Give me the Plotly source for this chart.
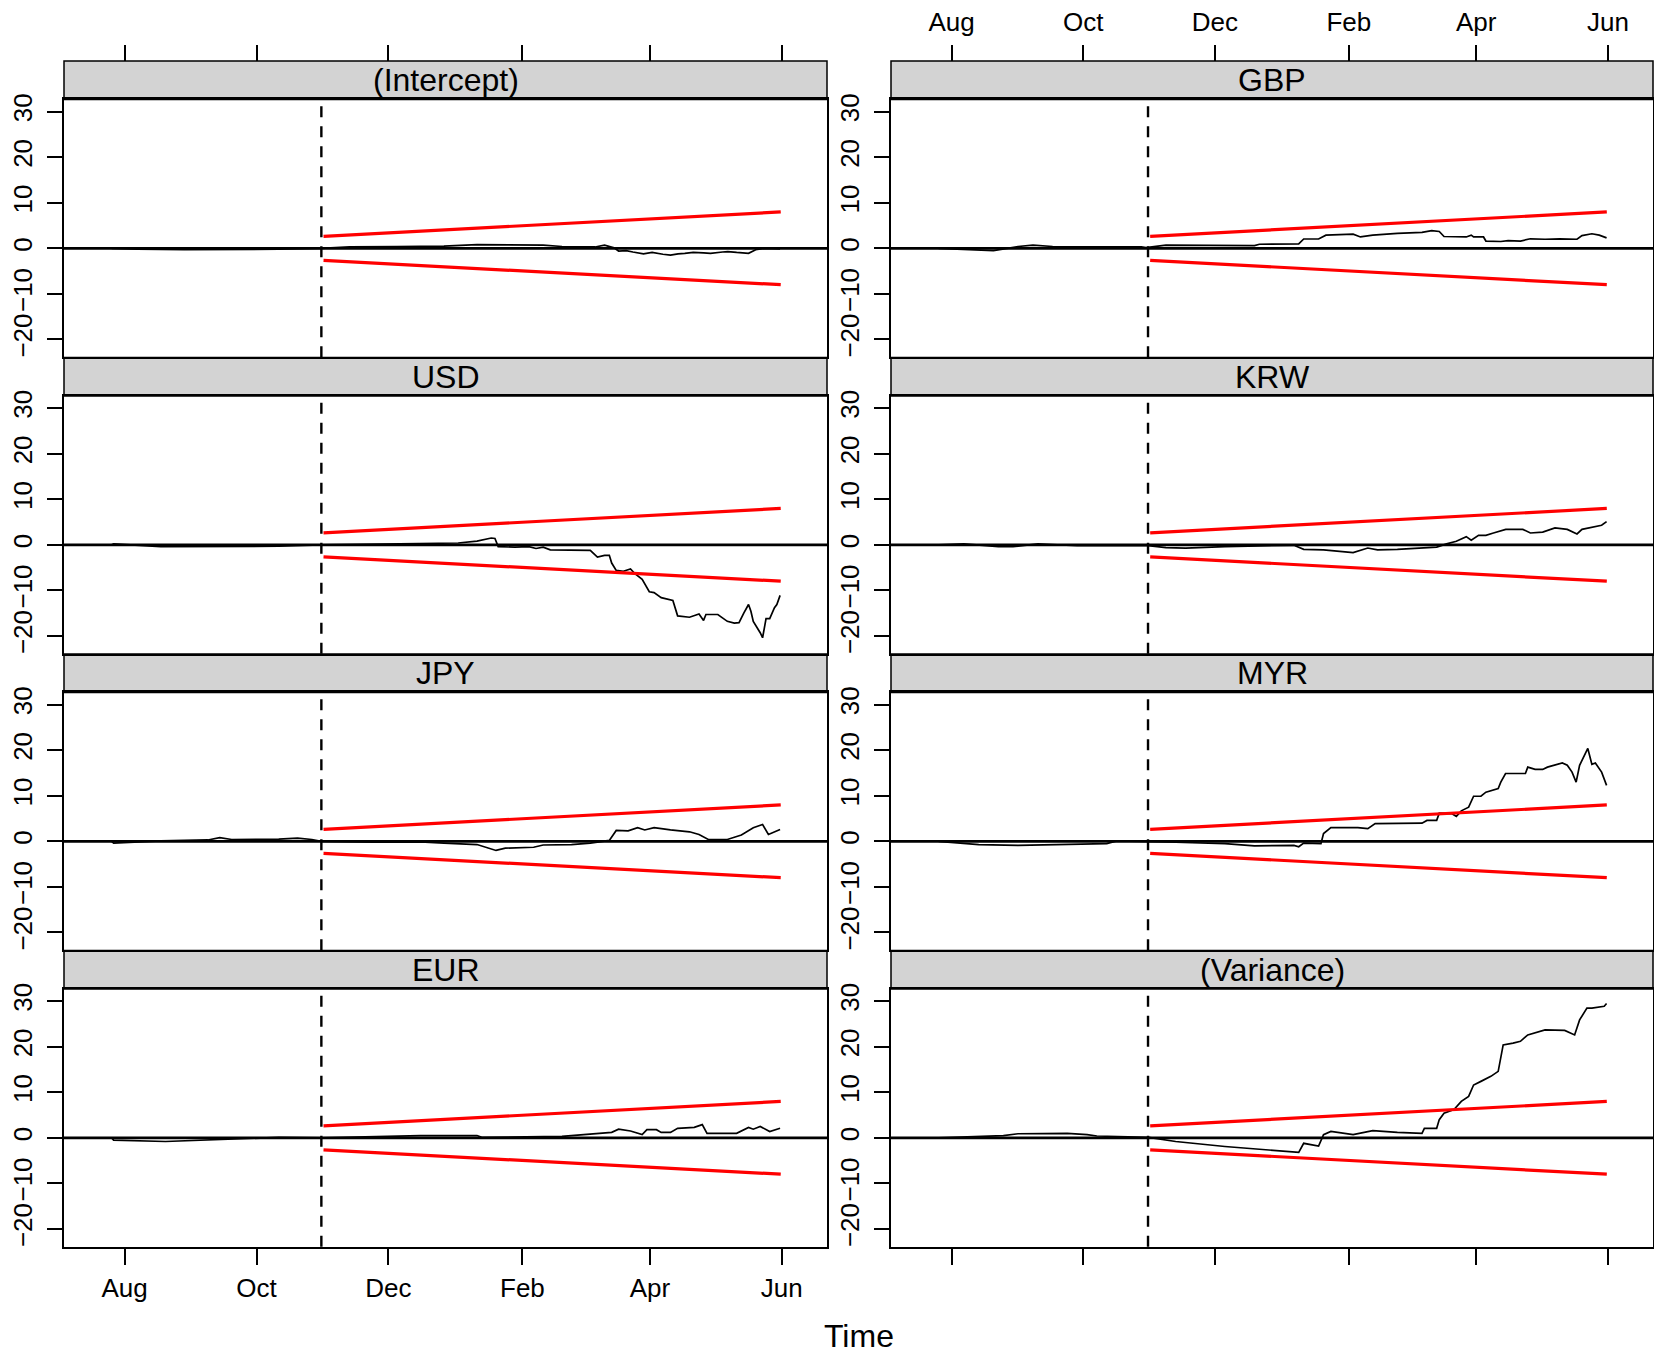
import plotly.graph_objects as go
import pandas as pd

# ---------------- data ----------------
base_date = pd.Timestamp("2005-08-01")   # day offsets below are days since this date

panel_names = ["(Intercept)", "USD", "JPY", "EUR", "GBP", "KRW", "MYR", "(Variance)"]

intercept_day = [-6, 5.8, 27.6, 49.5, 71.3, 90.9, 104, 125.9, 147.7, 163, 180.5, 193.6, 202.3, 217.6, 222,
                 226.4, 228.5, 232, 235.1, 240, 244, 246, 249, 252.5, 256, 259.1, 263, 267.8, 271, 276.6,
                 279, 283.1, 288.6, 291.9, 296.2, 303.2]
intercept_val = [0, -0.2, -0.3, -0.3, -0.2, 0.0, 0.3, 0.4, 0.5, 0.8, 0.8, 0.7, 0.4, 0.3, 0.7,
                 0.1, -0.6, -0.5, -0.8, -1.2, -0.9, -1.1, -1.3, -1.5, -1.2, -1.1, -0.9, -1.0, -1.1, -0.8,
                 -0.7, -0.9, -1.1, -0.3, 0.0, -0.1]

usd_day = [-6, -5.1, 16.7, 38.5, 71.3, 90.9, 115, 136.8, 154.3, 163, 169.6, 171.3, 172.8, 180.5, 187,
           190.3, 193.6, 196.9, 215.4, 218.7, 222, 224.2, 225.3, 227.4, 230.7, 234, 236.2, 239.4, 242.7,
           244.9, 248.2, 253.6, 255.8, 261.3, 265.7, 267.8, 268.9, 274.4, 278.8, 282, 284.2, 286.4, 288.6,
           289.7, 290.8, 294, 295.1, 296.7, 298.4, 300.6, 301.7, 303.2]
usd_val = [0, 0.2, -0.4, -0.4, -0.3, 0, 0.2, 0.4, 0.4, 0.8, 1.5, 1.4, -0.4, -0.5, -0.4,
           -0.8, -0.5, -1.1, -1.2, -2.7, -2.3, -2.3, -4.0, -5.6, -5.8, -5.3, -6.4, -7.6, -10.3,
           -10.5, -11.6, -12.2, -15.6, -15.9, -15.2, -16.6, -15.3, -15.3, -16.8, -17.2, -17.1, -15.0, -13.1,
           -14.6, -16.8, -19.3, -20.4, -16.2, -16.2, -13.8, -13.1, -11.1]

jpy_day = [-6, -5.1, 16.7, 38.5, 44, 49.5, 71.3, 80, 86.6, 90.9, 115, 136.8, 147.7, 163, 171.8,
           176.1, 189.2, 193.6, 206.7, 215.4, 224.2, 227.4, 232.9, 237.3, 240.6, 244.9, 252.5, 261.3,
           265.7, 270, 278.8, 285.3, 290.8, 295.1, 297.8, 300.6, 303.2]
jpy_val = [0, -0.4, 0.1, 0.3, 0.8, 0.4, 0.5, 0.7, 0.4, 0, -0.2, -0.1, -0.4, -0.7, -2.0,
           -1.5, -1.3, -0.8, -0.7, -0.4, 0.2, 2.4, 2.3, 3.0, 2.5, 3.0, 2.5, 2.1,
           1.5, 0.4, 0.4, 1.4, 3.0, 3.7, 1.5, 2.0, 2.6]

eur_day = [-6, -5.1, 18.9, 42.9, 47.3, 71.3, 90.9, 115, 136.8, 163, 165.2, 202.3, 219.8, 225.3, 228.5,
           234, 239.4, 241.6, 246, 248.2, 252.5, 255.8, 263.5, 267.2, 269.4, 276.6, 283.1, 288.6, 290.8,
           294, 298.4, 303.2]
eur_val = [0, -0.5, -0.8, -0.4, -0.2, 0.1, 0.0, 0.3, 0.5, 0.5, 0.1, 0.3, 1.1, 1.2, 1.9,
           1.5, 0.7, 1.8, 1.8, 1.2, 1.2, 2.1, 2.3, 2.9, 1.0, 1.0, 1.0, 2.3, 1.9,
           2.5, 1.4, 2.1]

gbp_day = [-6, 5.7, 19.4, 30.8, 37.7, 46.8, 58.2, 87.9, 90.1, 99.3, 115.2, 140.3, 142.6, 160.8, 163.1,
           170, 173.4, 186, 189.4, 195.1, 206.5, 217.9, 222.4, 225.9, 228.1, 238.4, 240.7, 241.8, 246.4,
           247.5, 254.4, 257.8, 263.5, 268.1, 274.9, 281.7, 289.7, 292, 296.6, 300, 303.4]
gbp_val = [0, -0.2, -0.5, 0.4, 0.7, 0.4, 0.3, 0.3, 0.15, 0.7, 0.7, 0.6, 0.9, 1.0, 2.05,
           2.05, 2.9, 3.1, 2.5, 2.9, 3.3, 3.5, 3.9, 3.7, 2.6, 2.5, 2.9, 2.5, 2.5,
           1.6, 1.5, 1.7, 1.6, 2.1, 2.0, 2.1, 2.0, 2.8, 3.2, 2.9, 2.3]

krw_day = [-6, 5.7, 21.7, 28.5, 40, 58.2, 90.1, 99.3, 108.4, 126.6, 158.6, 163.1, 172.3, 186, 192.8,
           197.3, 206.5, 217.9, 224.7, 229.3, 233.8, 238.4, 240.7, 244.1, 247.5, 251, 256.7, 264.6,
           268.1, 273.8, 279.5, 285.2, 289.7, 292, 297.7, 301.1, 303.4]
krw_val = [0, 0.2, -0.4, -0.4, 0.2, -0.2, -0.1, -0.6, -0.7, -0.4, -0.1, -1.0, -1.1, -1.7, -0.7,
           -1.1, -1.0, -0.7, -0.5, 0.2, 0.8, 1.8, 1.0, 2.1, 2.1, 2.6, 3.4, 3.4,
           2.6, 2.8, 3.7, 3.4, 2.4, 3.4, 3.9, 4.3, 5.1]

myr_day = [-6, 12.6, 30.8, 46.8, 71.9, 76.5, 91.3, 103.8, 126.6, 140.3, 158.6, 160.8, 163.1, 171.1, 172.3,
           175.7, 188.2, 192.8, 196.2, 206.5, 217.9, 220.2, 224.7, 225.9, 231.6, 233.8, 236.1, 239.5,
           241.8, 245.2, 247.5, 253.2, 254.4, 256.6, 265.8, 266.9, 270.3, 273.8, 276, 282.9, 285.2,
           287.4, 289.3, 290.9, 294.7, 296.6, 298.2, 301.1, 303.4]
myr_val = [0, -0.7, -0.9, -0.7, -0.5, 0.1, 0, -0.2, -0.5, -1.0, -0.9, -1.2, -0.4, -0.5, 1.7,
           3.0, 3.0, 2.8, 3.9, 3.9, 4.0, 4.6, 4.6, 6.2, 6.1, 5.5, 6.7, 7.5,
           9.9, 9.9, 10.8, 11.6, 13.0, 14.9, 14.9, 16.3, 15.8, 15.8, 16.3, 17.2, 16.7,
           15.2, 13.0, 16.7, 20.4, 16.9, 17.2, 15.2, 12.3]

variance_day = [-6, 5.7, 24, 30.8, 53.6, 62.8, 67.3, 91.3, 103.8, 126.6, 149.4, 160.8, 163.1, 170, 172.3,
                175.7, 186, 195.1, 206.5, 217.9, 219, 224.7, 225.9, 228.1, 232.7, 236.1, 239.5, 241.8,
                245.2, 249.8, 253.2, 255.5, 260.1, 263.5, 266.9, 274.9, 284, 288.6, 290.9, 294.3, 296.6,
                302.3, 303.4]
variance_val = [0, 0.15, 0.5, 0.9, 1.0, 0.7, 0.4, 0.1, -0.8, -1.9, -2.8, -3.2, -1.2, -1.8, 0.7,
                1.4, 0.7, 1.6, 1.2, 1.0, 2.1, 2.1, 4.0, 5.4, 6.2, 8.0, 9.1, 11.6,
                12.4, 13.5, 14.6, 20.4, 20.8, 21.2, 22.6, 23.7, 23.6, 22.6, 25.9, 28.5, 28.5,
                28.9, 29.5]

boundary_day = [92, 303.5]
boundary_val = [2.64, 7.99]
history_end = "2005-10-31"

month_ticks = ["2005-08-01", "2005-10-01", "2005-12-01", "2006-02-01", "2006-04-01", "2006-06-01"]
month_labels = ["Aug", "Oct", "Dec", "Feb", "Apr", "Jun"]
y_ticks = [-20, -10, 0, 10, 20, 30]

series_days = [intercept_day, usd_day, jpy_day, eur_day, gbp_day, krw_day, myr_day, variance_day]
series_vals = [intercept_val, usd_val, jpy_val, eur_val, gbp_val, krw_val, myr_val, variance_val]

# ---------------- layout geometry ----------------
W, H = 1654, 1353
FONT = "Liberation Sans, Arial, Helvetica, sans-serif"
col_px = [(64, 827), (891, 1653)]
strip_top0 = 61.0
row_step = 296.5
strip_h = 38.4
panel_h = 257.9
x_range = [base_date - pd.Timedelta(days=28.05), base_date + pd.Timedelta(days=324.9)]
y_range = [-23.93, 32.71]


def to_dates(days):
    return [base_date + pd.Timedelta(days=d) for d in days]


fig = go.Figure()
shapes = []
annotations = []
layout_axes = {}

for i, name in enumerate(panel_names):
    col, row = i // 4, i % 4
    n = i + 1
    xs = "x" if n == 1 else f"x{n}"
    ys = "y" if n == 1 else f"y{n}"
    xl = "xaxis" if n == 1 else f"xaxis{n}"
    yl = "yaxis" if n == 1 else f"yaxis{n}"
    x0p, x1p = col_px[col]
    st = strip_top0 + row * row_step
    pt = st + strip_h
    pb = pt + panel_h
    xdom = [x0p / W, x1p / W]
    ydom = [1 - pb / H, 1 - pt / H]

    bottom_row = row == 3
    layout_axes[xl] = dict(
        domain=xdom, anchor=ys, range=x_range, type="date", automargin=False,
        showgrid=False, zeroline=False, showline=True, mirror=True,
        linecolor="black", linewidth=1.5,
        ticks="outside" if bottom_row else "",
        ticklen=16, tickwidth=1.5, tickcolor="black",
        tickvals=month_ticks, ticktext=month_labels,
        showticklabels=bottom_row and col == 0,
        tickfont=dict(family=FONT, size=26, color="black"),
        ticklabelstandoff=1,
    )
    layout_axes[yl] = dict(
        domain=ydom, anchor=xs, range=y_range, automargin=False,
        showgrid=False, zeroline=False, showline=True, mirror=True,
        linecolor="black", linewidth=1.5,
        ticks="outside", ticklen=15, tickwidth=1.5, tickcolor="black",
        tickvals=y_ticks, tickangle=-90,
        tickfont=dict(family=FONT, size=26, color="black"),
        ticklabelstandoff=5,
    )

    # data line
    fig.add_trace(go.Scatter(x=to_dates(series_days[i]), y=series_vals[i], mode="lines",
                             line=dict(color="black", width=1.7), xaxis=xs, yaxis=ys,
                             showlegend=False, hoverinfo="skip"))
    # boundaries
    fig.add_trace(go.Scatter(x=to_dates(boundary_day), y=boundary_val, mode="lines",
                             line=dict(color="#FF0000", width=3.2), xaxis=xs, yaxis=ys,
                             showlegend=False, hoverinfo="skip"))
    fig.add_trace(go.Scatter(x=to_dates(boundary_day), y=[-v for v in boundary_val], mode="lines",
                             line=dict(color="#FF0000", width=3.2), xaxis=xs, yaxis=ys,
                             showlegend=False, hoverinfo="skip"))

    # zero reference line
    shapes.append(dict(type="line", xref=f"{xs} domain", yref=ys, x0=0, x1=1, y0=0, y1=0,
                       line=dict(color="black", width=2.8)))
    # start of monitoring
    shapes.append(dict(type="line", xref=xs, yref=f"{ys} domain", x0=history_end, x1=history_end,
                       y0=0, y1=1, line=dict(color="black", width=2.4, dash="11px,9px")))
    # strip
    shapes.append(dict(type="rect", xref="paper", yref="paper",
                       x0=x0p / W, x1=x1p / W, y0=1 - pt / H, y1=1 - st / H,
                       fillcolor="#D3D3D3", line=dict(color="black", width=1.5), layer="below"))
    annotations.append(dict(text=name, xref="paper", yref="paper",
                            x=(x0p + x1p) / 2 / W, y=1 - (st + strip_h / 2) / H,
                            xanchor="center", yanchor="middle", showarrow=False,
                            font=dict(family=FONT, size=32, color="black")))

    # top axis ticks for the top row (drawn above the strip)
    if row == 0:
        m = 9 + col
        layout_axes[f"xaxis{m}"] = dict(
            domain=xdom, overlaying=xs, anchor="free", position=1 - st / H, side="top",
            range=x_range, type="date", automargin=False,
            showgrid=False, zeroline=False, showline=False,
            ticks="outside", ticklen=16, tickwidth=1.5, tickcolor="black",
            tickvals=month_ticks, ticktext=month_labels,
            showticklabels=(col == 1),
            tickfont=dict(family=FONT, size=26, color="black"),
            ticklabelstandoff=4,
        )
        fig.add_trace(go.Scatter(x=[], y=[], xaxis=f"x{m}", yaxis=ys, showlegend=False,
                                 hoverinfo="skip"))

annotations.append(dict(text="Time", xref="paper", yref="paper",
                        x=(col_px[0][0] + col_px[1][1]) / 2 / W, y=1 - 1335.5 / H,
                        xanchor="center", yanchor="middle", showarrow=False,
                        font=dict(family=FONT, size=32, color="black")))

fig.update_layout(
    width=W, height=H, margin=dict(l=0, r=0, t=0, b=0, autoexpand=False),
    paper_bgcolor="white", plot_bgcolor="white",
    shapes=shapes, annotations=annotations, showlegend=False,
    **layout_axes,
)

fig.write_html("out.html", config={"displayModeBar": False},
               post_script="document.body.style.margin='0';document.body.style.overflow='hidden';")
